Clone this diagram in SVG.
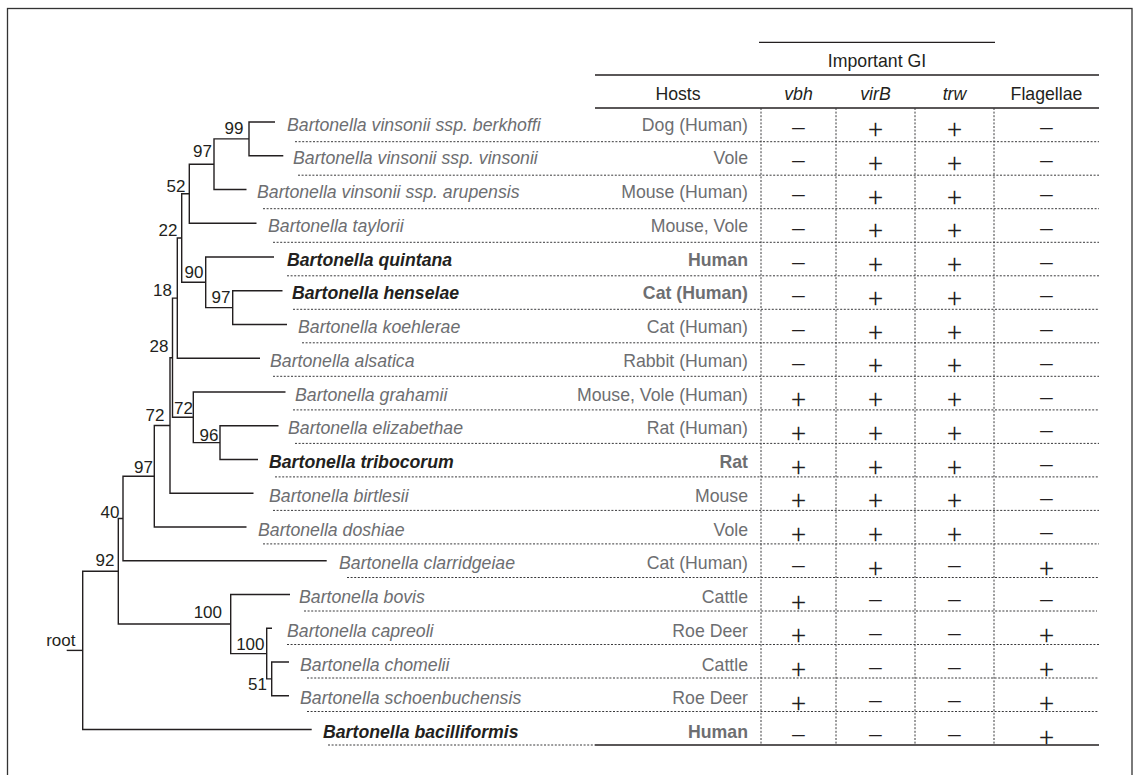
<svg xmlns="http://www.w3.org/2000/svg" width="1134" height="775" viewBox="0 0 1134 775">
<style>
text{font-family:"Liberation Sans",Arial,sans-serif;}
.sp{font-size:17.7px;font-style:italic;fill:#6d6e71;}
.b{font-weight:bold;fill:#231f20;}
.host{font-size:17.7px;fill:#6d6e71;text-anchor:end;}
.hdr{font-size:17.7px;fill:#231f20;text-anchor:middle;}
.it{font-style:italic;}
.num{font-size:17px;fill:#231f20;text-anchor:end;}
.sym{font-family:Roboto,"Liberation Sans",sans-serif;font-weight:300;font-size:26px;fill:#231f20;text-anchor:middle;}
.br{stroke:#231f20;stroke-width:1.4;fill:none;}
.rule{stroke:#231f20;stroke-width:1.3;fill:none;}
.dot{stroke:#3a3a3c;stroke-width:1;stroke-dasharray:2 1.6;fill:none;}
</style>
<rect x="7.5" y="8.5" width="1124.5" height="800" fill="none" stroke="#333" stroke-width="1.3"/>

<g id="table">
<line class="rule" x1="759" y1="42.3" x2="995" y2="42.3"/>
<text class="hdr" x="877" y="67">Important GI</text>
<line class="rule" x1="595" y1="75" x2="1099" y2="75"/>
<text class="hdr" x="678" y="100">Hosts</text>
<text class="hdr it" x="798.5" y="100">vbh</text>
<text class="hdr it" x="875.5" y="100">virB</text>
<text class="hdr it" x="954.5" y="100">trw</text>
<text class="hdr" x="1046.5" y="100">Flagellae</text>
<line class="rule" x1="595" y1="108" x2="1099" y2="108"/>
<line class="dot" x1="761" y1="108" x2="761" y2="745"/>
<line class="dot" x1="836" y1="108" x2="836" y2="745"/>
<line class="dot" x1="915" y1="108" x2="915" y2="745"/>
<line class="dot" x1="994" y1="108" x2="994" y2="745"/>
<line class="dot" x1="295" y1="141.7" x2="1099" y2="141.7"/>
<line class="dot" x1="298" y1="175.2" x2="1099" y2="175.2"/>
<line class="dot" x1="263" y1="208.7" x2="1099" y2="208.7"/>
<line class="dot" x1="273" y1="242.3" x2="1099" y2="242.3"/>
<line class="dot" x1="287" y1="275.8" x2="1099" y2="275.8"/>
<line class="dot" x1="293" y1="309.3" x2="1099" y2="309.3"/>
<line class="dot" x1="302" y1="342.8" x2="1099" y2="342.8"/>
<line class="dot" x1="273" y1="376.3" x2="1099" y2="376.3"/>
<line class="dot" x1="293" y1="409.9" x2="1099" y2="409.9"/>
<line class="dot" x1="295" y1="443.4" x2="1099" y2="443.4"/>
<line class="dot" x1="275" y1="476.9" x2="1099" y2="476.9"/>
<line class="dot" x1="273" y1="510.4" x2="1099" y2="510.4"/>
<line class="dot" x1="263" y1="543.9" x2="1099" y2="543.9"/>
<line class="dot" x1="347" y1="577.5" x2="1099" y2="577.5"/>
<line class="dot" x1="304" y1="611" x2="1097" y2="611"/>
<line class="dot" x1="287" y1="644.5" x2="1099" y2="644.5"/>
<line class="dot" x1="307" y1="678" x2="1099" y2="678"/>
<line class="dot" x1="307" y1="711.5" x2="1099" y2="711.5"/>
<line class="dot" x1="328" y1="745" x2="595" y2="745"/>
<line class="rule" x1="595" y1="745" x2="1099" y2="745"/>
</g>

<g id="connectors">
<path class="br" d="M275 122H249V155.75H283.3"/>
<path class="br" d="M249 138.9H214V189.5H246.5"/>
<path class="br" d="M214 164.2H189.3V223.25H256.5"/>
<path class="br" d="M282.5 290.75H232.7V324.5H287"/>
<path class="br" d="M274 257H205.7V307.6H232.7"/>
<path class="br" d="M189.3 193.7H181.7V282.3H205.7"/>
<path class="br" d="M181.7 238H177.3V358.25H260"/>
<path class="br" d="M278.5 425.75H220V459.5H258"/>
<path class="br" d="M285.5 392H193.3V442.6H220"/>
<path class="br" d="M177.3 298.1H172.5V417.3H193.3"/>
<path class="br" d="M172.5 357.7H170V493.25H253.5"/>
<path class="br" d="M170 425.5H154.3V527H246.5"/>
<path class="br" d="M154.3 476.2H123V560.75H326.7"/>
<path class="br" d="M289 662H271.7V695.75H289"/>
<path class="br" d="M272 628.25H266.7V678.9H271.7"/>
<path class="br" d="M290 594.5H230.7V653.6H266.7"/>
<path class="br" d="M123 518.5H118.3V624H230.7"/>
<path class="br" d="M118.3 571.3H82.7V729.5H311.7"/>
<path class="br" d="M66.7 650.4H82.7"/>
</g>

<g id="node-labels">
<g id="n-root"><text class="num" x="75.5" y="646">root</text></g>
<g id="n99"><text class="num" x="243.5" y="133.5">99</text></g>
<g id="n97a"><text class="num" x="212" y="157">97</text></g>
<g id="n52"><text class="num" x="185.5" y="191.5">52</text></g>
<g id="n22"><text class="num" x="177.5" y="236">22</text></g>
<g id="n90"><text class="num" x="203.5" y="278">90</text></g>
<g id="n97b"><text class="num" x="230.5" y="303">97</text></g>
<g id="n18"><text class="num" x="172" y="296">18</text></g>
<g id="n28"><text class="num" x="168.5" y="351.5">28</text></g>
<g id="n72a"><text class="num" x="193" y="414">72</text></g>
<g id="n96"><text class="num" x="218.5" y="441">96</text></g>
<g id="n72b"><text class="num" x="164.5" y="421">72</text></g>
<g id="n97c"><text class="num" x="153" y="473">97</text></g>
<g id="n40"><text class="num" x="119.5" y="518">40</text></g>
<g id="n92"><text class="num" x="114.5" y="566">92</text></g>
<g id="n100a"><text class="num" x="222" y="618">100</text></g>
<g id="n100b"><text class="num" x="264.5" y="650">100</text></g>
<g id="n51"><text class="num" x="267" y="690">51</text></g>
</g>

<g id="row-berkhoffi"><text class="sp" x="287" y="130.5">Bartonella vinsonii ssp. berkhoffi</text><text class="host" x="748" y="130.5">Dog (Human)</text>
<text class="sym" x="798.5" y="137.7">–</text><text class="sym" x="875.5" y="138.1">+</text><text class="sym" x="954.5" y="138.1">+</text><text class="sym" x="1046.5" y="137.7">–</text></g>
<g id="row-vinsonii"><text class="sp" x="293" y="164.25">Bartonella vinsonii ssp. vinsonii</text><text class="host" x="748" y="164.25">Vole</text>
<text class="sym" x="798.5" y="171.45">–</text><text class="sym" x="875.5" y="171.85">+</text><text class="sym" x="954.5" y="171.85">+</text><text class="sym" x="1046.5" y="171.45">–</text></g>
<g id="row-arupensis"><text class="sp" x="257" y="198">Bartonella vinsonii ssp. arupensis</text><text class="host" x="748" y="198">Mouse (Human)</text>
<text class="sym" x="798.5" y="205.2">–</text><text class="sym" x="875.5" y="205.6">+</text><text class="sym" x="954.5" y="205.6">+</text><text class="sym" x="1046.5" y="205.2">–</text></g>
<g id="row-taylorii"><text class="sp" x="268" y="231.75">Bartonella taylorii</text><text class="host" x="748" y="231.75">Mouse, Vole</text>
<text class="sym" x="798.5" y="238.95">–</text><text class="sym" x="875.5" y="239.35">+</text><text class="sym" x="954.5" y="239.35">+</text><text class="sym" x="1046.5" y="238.95">–</text></g>
<g id="row-quintana"><text class="sp b" x="287" y="265.5">Bartonella quintana</text><text class="host b" x="748" y="265.5">Human</text>
<text class="sym" x="798.5" y="272.7">–</text><text class="sym" x="875.5" y="273.1">+</text><text class="sym" x="954.5" y="273.1">+</text><text class="sym" x="1046.5" y="272.7">–</text></g>
<g id="row-henselae"><text class="sp b" x="292" y="299.25">Bartonella henselae</text><text class="host b" x="748" y="299.25">Cat (Human)</text>
<text class="sym" x="798.5" y="306.45">–</text><text class="sym" x="875.5" y="306.85">+</text><text class="sym" x="954.5" y="306.85">+</text><text class="sym" x="1046.5" y="306.45">–</text></g>
<g id="row-koehlerae"><text class="sp" x="298" y="333">Bartonella koehlerae</text><text class="host" x="748" y="333">Cat (Human)</text>
<text class="sym" x="798.5" y="340.2">–</text><text class="sym" x="875.5" y="340.6">+</text><text class="sym" x="954.5" y="340.6">+</text><text class="sym" x="1046.5" y="340.2">–</text></g>
<g id="row-alsatica"><text class="sp" x="270" y="366.75">Bartonella alsatica</text><text class="host" x="748" y="366.75">Rabbit (Human)</text>
<text class="sym" x="798.5" y="373.95">–</text><text class="sym" x="875.5" y="374.35">+</text><text class="sym" x="954.5" y="374.35">+</text><text class="sym" x="1046.5" y="373.95">–</text></g>
<g id="row-grahamii"><text class="sp" x="295" y="400.5">Bartonella grahamii</text><text class="host" x="748" y="400.5">Mouse, Vole (Human)</text>
<text class="sym" x="798.5" y="408.1">+</text><text class="sym" x="875.5" y="408.1">+</text><text class="sym" x="954.5" y="408.1">+</text><text class="sym" x="1046.5" y="407.7">–</text></g>
<g id="row-elizabethae"><text class="sp" x="288" y="434.25">Bartonella elizabethae</text><text class="host" x="748" y="434.25">Rat (Human)</text>
<text class="sym" x="798.5" y="441.85">+</text><text class="sym" x="875.5" y="441.85">+</text><text class="sym" x="954.5" y="441.85">+</text><text class="sym" x="1046.5" y="441.45">–</text></g>
<g id="row-tribocorum"><text class="sp b" x="269" y="468">Bartonella tribocorum</text><text class="host b" x="748" y="468">Rat</text>
<text class="sym" x="798.5" y="475.6">+</text><text class="sym" x="875.5" y="475.6">+</text><text class="sym" x="954.5" y="475.6">+</text><text class="sym" x="1046.5" y="475.2">–</text></g>
<g id="row-birtlesii"><text class="sp" x="269" y="501.75">Bartonella birtlesii</text><text class="host" x="748" y="501.75">Mouse</text>
<text class="sym" x="798.5" y="509.35">+</text><text class="sym" x="875.5" y="509.35">+</text><text class="sym" x="954.5" y="509.35">+</text><text class="sym" x="1046.5" y="508.95">–</text></g>
<g id="row-doshiae"><text class="sp" x="258" y="535.5">Bartonella doshiae</text><text class="host" x="748" y="535.5">Vole</text>
<text class="sym" x="798.5" y="543.1">+</text><text class="sym" x="875.5" y="543.1">+</text><text class="sym" x="954.5" y="543.1">+</text><text class="sym" x="1046.5" y="542.7">–</text></g>
<g id="row-clarridgeiae"><text class="sp" x="339" y="569.25">Bartonella clarridgeiae</text><text class="host" x="748" y="569.25">Cat (Human)</text>
<text class="sym" x="798.5" y="576.45">–</text><text class="sym" x="875.5" y="576.85">+</text><text class="sym" x="954.5" y="576.45">–</text><text class="sym" x="1046.5" y="576.85">+</text></g>
<g id="row-bovis"><text class="sp" x="299" y="603">Bartonella bovis</text><text class="host" x="748" y="603">Cattle</text>
<text class="sym" x="798.5" y="610.6">+</text><text class="sym" x="875.5" y="610.2">–</text><text class="sym" x="954.5" y="610.2">–</text><text class="sym" x="1046.5" y="610.2">–</text></g>
<g id="row-capreoli"><text class="sp" x="287" y="636.75">Bartonella capreoli</text><text class="host" x="748" y="636.75">Roe Deer</text>
<text class="sym" x="798.5" y="644.35">+</text><text class="sym" x="875.5" y="643.95">–</text><text class="sym" x="954.5" y="643.95">–</text><text class="sym" x="1046.5" y="644.35">+</text></g>
<g id="row-chomelii"><text class="sp" x="300" y="670.5">Bartonella chomelii</text><text class="host" x="748" y="670.5">Cattle</text>
<text class="sym" x="798.5" y="678.1">+</text><text class="sym" x="875.5" y="677.7">–</text><text class="sym" x="954.5" y="677.7">–</text><text class="sym" x="1046.5" y="678.1">+</text></g>
<g id="row-schoenbuchensis"><text class="sp" x="300" y="704.25">Bartonella schoenbuchensis</text><text class="host" x="748" y="704.25">Roe Deer</text>
<text class="sym" x="798.5" y="711.85">+</text><text class="sym" x="875.5" y="711.45">–</text><text class="sym" x="954.5" y="711.45">–</text><text class="sym" x="1046.5" y="711.85">+</text></g>
<g id="row-bacilliformis"><text class="sp b" x="323" y="738">Bartonella bacilliformis</text><text class="host b" x="748" y="738">Human</text>
<text class="sym" x="798.5" y="745.2">–</text><text class="sym" x="875.5" y="745.2">–</text><text class="sym" x="954.5" y="745.2">–</text><text class="sym" x="1046.5" y="745.6">+</text></g>
</svg>
